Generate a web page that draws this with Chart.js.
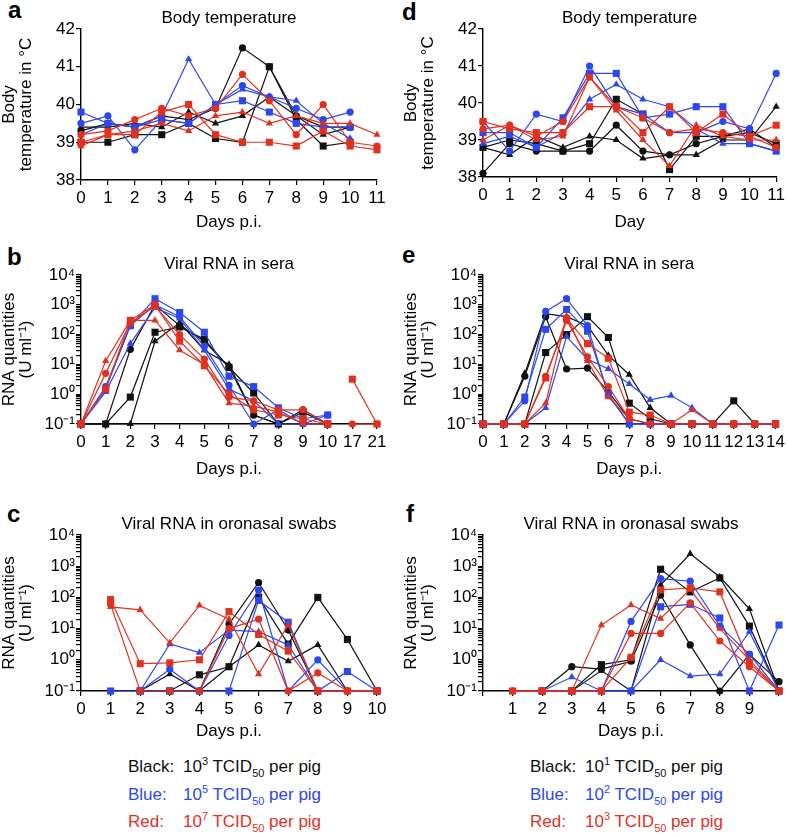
<!DOCTYPE html>
<html>
<head>
<meta charset="utf-8">
<script src="https://cdn.jsdelivr.net/npm/chart.js@4.4.1/dist/chart.umd.min.js"></script>
<style>
body { margin: 0; background: #fff; width: 788px; height: 837px; position: relative; overflow: hidden; font-family: 'Liberation Sans', Arial, sans-serif; }
canvas { position: absolute; }
.tag { position: absolute; font-weight: bold; font-size: 24px; line-height: 24px; }
.leg { position: absolute; font-size: 17px; line-height: 17px; white-space: nowrap; }
.leg .v { position: absolute; left: 55px; top: 0; }
sup { font-size: 11px; vertical-align: 7px; line-height: 0; }
sub { font-size: 11px; vertical-align: -5px; line-height: 0; }
</style>
</head>
<body>
<div class="tag" style="left:8px;top:-2px">a</div>
<div class="tag" style="left:7px;top:245px">b</div>
<div class="tag" style="left:7px;top:502px">c</div>
<div class="tag" style="left:402px;top:0px">d</div>
<div class="tag" style="left:402px;top:243px">e</div>
<div class="tag" style="left:406px;top:502px">f</div>

<canvas id="pa" width="394" height="233" style="left:0;top:0"></canvas>
<canvas id="pb" width="394" height="234" style="left:0;top:246px"></canvas>
<canvas id="pc" width="394" height="236" style="left:0;top:506px"></canvas>
<canvas id="pd" width="394" height="233" style="left:394px;top:0"></canvas>
<canvas id="pe" width="394" height="234" style="left:394px;top:246px"></canvas>
<canvas id="pf" width="394" height="236" style="left:394px;top:506px"></canvas>

<div class="leg" style="left:128px;top:758px;color:#111">Black:<span class="v">10<sup>3</sup> TCID<sub>50</sub> per pig</span></div>
<div class="leg" style="left:128px;top:786px;color:#2d47ee">Blue:<span class="v">10<sup>5</sup> TCID<sub>50</sub> per pig</span></div>
<div class="leg" style="left:128px;top:813px;color:#e2301f">Red:<span class="v">10<sup>7</sup> TCID<sub>50</sub> per pig</span></div>
<div class="leg" style="left:530px;top:758px;color:#111">Black:<span class="v">10<sup>1</sup> TCID<sub>50</sub> per pig</span></div>
<div class="leg" style="left:530px;top:786px;color:#2d47ee">Blue:<span class="v">10<sup>2</sup> TCID<sub>50</sub> per pig</span></div>
<div class="leg" style="left:530px;top:813px;color:#e2301f">Red:<span class="v">10<sup>3</sup> TCID<sub>50</sub> per pig</span></div>

<script>
// x categories
const tempDays = ['0', '1', '2', '3', '4', '5', '6', '7', '8', '9', '10', '11'];
const seraDaysB = ['0', '1', '2', '3', '4', '5', '6', '7', '8', '9', '10', '17', '21'];
const seraDaysE = ['0', '1', '2', '3', '4', '5', '6', '7', '8', '9', '10', '11', '12', '13', '14'];
const swabDaysC = ['0', '1', '2', '3', '4', '5', '6', '7', '8', '9', '10'];
const swabDaysF = ['', '1', '2', '3', '4', '5', '6', '7', '8', '9', ''];

// y ticks
const tempTicks = [38, 39, 40, 41, 42];
const logTicks = [0.1, 1, 10, 100, 1000, 10000];
const logTickLabels = ['10⁻¹', '10⁰', '10¹', '10²', '10³', '10⁴'];

// each group: [circle, square, triangle]
// a - body temperature
const tempA_black = [
    [39.3, 39.5, 39.4, 39.7, 39.6, 39.9, 41.5, 41.0, 39.7, 39.4, 39.4, null],
    [39.0, 39.0, 39.2, 39.2, 39.5, 39.1, 39.0, 41.0, 39.6, 38.9, 39.0, null],
    [39.4, 39.4, 39.5, 39.4, 39.8, 39.5, 39.7, 40.2, 39.7, 39.2, 39.4, null]
];
const tempA_blue = [
    [39.5, 39.7, 38.8, 39.6, 39.5, 40.0, 40.5, 40.2, 39.9, 39.6, 39.8, null],
    [39.8, 39.5, 39.4, 39.6, 39.5, 40.0, 40.1, 39.8, 39.5, 39.4, 39.4, null],
    [39.2, 39.5, 39.4, 39.7, 41.2, 40.0, 40.4, 40.2, 40.1, 39.5, 39.1, null]
];
const tempA_red = [
    [39.2, 39.3, 39.6, 39.9, 39.7, 39.9, 40.8, 40.1, 39.2, 40.0, 39.0, 38.9],
    [39.0, 39.2, 39.2, 39.8, 40.0, 39.2, 39.0, 39.0, 38.9, 39.3, 38.9, 38.8],
    [38.9, 39.2, 39.3, 39.5, 39.3, 39.7, 39.8, 39.5, 39.7, 39.5, 39.5, 39.2]
];

// d - body temperature
const tempD_black = [
    [38.1, 38.9, 38.7, 38.7, 38.7, 39.4, 38.7, 38.6, 38.9, 39.1, 39.3, 38.8],
    [38.8, 39.0, 38.9, 38.7, 38.9, 40.1, 39.7, 38.2, 39.1, 39.1, 39.2, 38.9],
    [38.8, 38.6, 39.1, 38.8, 39.1, 39.0, 38.5, 38.6, 38.6, 39.0, 39.0, 39.9]
];
const tempD_blue = [
    [39.5, 38.7, 39.7, 39.5, 41.0, 39.9, 39.7, 39.2, 39.2, 39.5, 39.3, 40.8],
    [39.2, 39.2, 38.8, 39.6, 40.8, 40.8, 39.6, 39.7, 39.9, 39.9, 38.9, 38.7],
    [38.9, 39.1, 38.8, 39.2, 40.1, 40.5, 40.1, 39.9, 39.3, 38.9, 38.9, 38.7]
];
const tempD_red = [
    [39.3, 39.4, 39.1, 39.5, 40.7, 39.9, 39.6, 39.2, 39.3, 39.2, 39.1, 38.8],
    [39.5, 39.3, 39.2, 39.2, 39.9, 39.9, 39.2, 39.9, 39.2, 39.7, 39.1, 39.4],
    [39.0, 39.4, 39.0, 39.1, 40.7, 39.8, 39.0, 38.3, 39.4, 39.1, 39.0, 39.0]
];

// b - viral RNA in sera
const seraB_black = [
    [0.1, 0.1, 32, 1000, 200, 60, 8, 0.2, 0.1, 0.3, 0.1, null, null],
    [0.1, 0.1, 0.8, 120, 180, 70, 8, 1.1, 0.1, 0.25, 0.1, null, null],
    [0.1, 0.1, 0.1, 60, 250, 30, 10, 0.2, 0.1, 0.1, 0.1, null, null]
];
const seraB_blue = [
    [0.1, 1.8, 200, 1000, 400, 40, 2, 0.1, 0.3, 0.1, 0.2, null, null],
    [0.1, 1.5, 200, 1600, 550, 120, 4, 1.8, 0.35, 0.15, 0.2, null, null],
    [0.1, 1.2, 50, 800, 350, 30, 1.5, 0.6, 0.1, 0.1, 0.1, null, null]
];
const seraB_red = [
    [0.1, 5, 250, 900, 100, 15, 0.8, 0.6, 0.3, 0.3, 0.1, null, null],
    [0.1, 1.5, 300, 1000, 60, 9, 1.0, 0.3, 0.2, 0.15, 0.1, null, null],
    [0.1, 13, 300, 300, 30, 10, 0.5, 0.4, 0.25, 0.1, 0.1, null, null]
];
// red animals sampled again on days 17 and 21
const seraB_redLate = [
    [null, null, null, null, null, null, null, null, null, null, null, 0.1, 0.1],
    [null, null, null, null, null, null, null, null, null, null, null, 3.2, 0.1]
];

// e - viral RNA in sera
const seraE_black = [
    [0.1, 0.1, 4, 400, 7, 7.5, 1.2, 0.15, 0.1, 0.1, 0.1, 0.1, 0.1, 0.1, 0.1],
    [0.1, 0.1, 0.1, 25, 100, 400, 80, 0.5, 0.15, 0.1, 0.1, 0.1, 0.6, 0.1, 0.1],
    [0.1, 0.1, 5, 500, 400, 200, 20, 4.5, 0.35, 0.1, 0.1, 0.1, 0.1, 0.1, 0.1]
];
const seraE_blue = [
    [0.1, 0.1, 0.6, 600, 1600, 200, 0.9, 0.1, 0.1, 0.1, 0.1, 0.1, 0.1, 0.1, 0.1],
    [0.1, 0.1, 0.8, 150, 700, 130, 1.0, 0.1, 0.1, 0.1, 0.1, 0.1, 0.1, 0.1, 0.1],
    [0.1, 0.1, 0.1, 0.35, 85, 15, 7, 2.2, 0.65, 0.9, 0.35, 0.1, 0.1, 0.1, 0.1]
];
const seraE_red = [
    [0.1, 0.1, 0.1, 4, 300, 18, 1.8, 0.15, 0.1, 0.1, 0.1, 0.1, 0.1, 0.1, 0.1],
    [0.1, 0.1, 0.1, 3.5, 350, 50, 16, 0.25, 0.2, 0.1, 0.1, 0.1, 0.1, 0.1, 0.1],
    [0.1, 0.1, 0.1, 0.5, 400, 13, 0.8, 0.15, 0.1, 0.1, 0.3, 0.1, 0.1, 0.1, 0.1]
];

// c - viral RNA in oronasal swabs
const swabC_black = [
    [null, null, 0.1, 0.1, 0.1, 14, 300, 9, 0.1, 0.1, 0.1],
    [null, null, 0.1, 0.1, 0.33, 0.6, 100, 3.2, 100, 4.5, 0.1],
    [null, null, 0.1, 0.35, 0.1, 0.6, 3, 0.9, 3, 0.1, 0.1]
];
const swabC_blue = [
    [null, null, 0.1, 0.5, 0.1, 6, 170, 0.1, 1.0, 0.1, 0.1],
    [null, 0.1, 0.1, 0.1, 0.1, 0.1, 80, 16, 0.1, 0.42, 0.1],
    [null, null, 0.1, 3.2, 1.7, 9, 8, 3, 0.1, 0.1, 0.1]
];
const swabC_red = [
    [null, 60, 0.1, 0.1, 0.1, 10, 20, 0.1, 0.38, 0.1, 0.1],
    [null, 85, 0.75, 0.8, 1.0, 35, 6.5, 1.9, 0.1, 0.1, 0.1],
    [null, 50, 40, 3.5, 55, 20, 0.35, 13, 0.1, 0.1, 0.1]
];

// f - viral RNA in oronasal swabs
const swabF_black = [
    [null, null, 0.1, 0.6, 0.5, 0.9, 120, 3, 0.1, 1.5, 0.2],
    [null, null, 0.1, 0.1, 0.7, 1.0, 800, 150, 420, 12, 0.1],
    [null, null, 0.1, 0.1, 0.45, 0.1, 250, 2500, 450, 43, 0.1]
];
const swabF_blue = [
    [null, null, 0.1, 0.1, 0.1, 17, 400, 330, 12, 1.5, 0.1],
    [null, null, 0.1, 0.1, 0.1, 0.1, 50, 60, 22, 0.1, 13],
    [null, null, 0.1, 0.28, 0.1, 0.1, 1.0, 0.3, 0.35, 8, 0.1]
];
const swabF_red = [
    [null, 0.1, 0.1, 0.1, 0.1, 7, 7, 67, 4, 0.6, 0.1],
    [null, 0.1, 0.1, 0.1, 0.1, 1.2, 175, 200, 150, 0.8, 0.1],
    [null, 0.1, 0.1, 0.1, 13, 57, 21, 180, 10, 1.0, 0.1]
];

const colBlack = '#111111';
const colBlue = '#2d47ee';
const colRed = '#e2301f';
const shapes = ['circle', 'rect', 'triangle'];
const radii = [3.6, 5, 4.2];

Chart.defaults.font.family = "'Liberation Sans', Arial, sans-serif";
Chart.defaults.font.size = 17;
Chart.defaults.color = '#000';

function groupSets(arrays, color, shapeIdx) {
    return arrays.map((vals, i) => {
        const s = shapeIdx ? shapeIdx[i] : i;
        return {
            data: vals,
            borderColor: color,
            backgroundColor: color,
            borderWidth: 1.2,
            pointStyle: shapes[s],
            pointRadius: radii[s],
            pointBorderWidth: 0,
            tension: 0,
            spanGaps: false,
            clip: false
        };
    });
}

// decades plus minor marks for the log axis
function logMarks() {
    const out = [];
    logTicks.forEach((d, i) => {
        out.push(d);
        if (i < logTicks.length - 1) {
            for (let k = 2; k <= 9; k++) out.push(+(d * k).toPrecision(3));
        }
    });
    return out;
}

function logLabel(v) {
    const idx = logTicks.findIndex(t => Math.abs(t - v) < t * 1e-6);
    return idx >= 0 ? logTickLabels[idx] : '';
}

function drawPanel(id, cfg) {
    const axisGrid = { drawOnChartArea: false, drawTicks: true, tickLength: 5, color: '#000', lineWidth: 1.2 };
    const axisBorder = { display: true, color: '#000', width: 1.4 };

    let yScale;
    if (cfg.log) {
        yScale = {
            type: 'logarithmic', min: 0.1, max: 10000,
            afterBuildTicks: s => { s.ticks = logMarks().map(v => ({ value: v })); },
            ticks: { autoSkip: false, padding: 1, callback: v => logLabel(v) }
        };
    } else {
        yScale = {
            type: 'linear', min: tempTicks[0], max: tempTicks[tempTicks.length - 1],
            afterBuildTicks: s => { s.ticks = tempTicks.map(v => ({ value: v })); },
            ticks: { autoSkip: false, padding: 1 }
        };
    }
    yScale.afterFit = s => { s.width = cfg.yWidth; };
    yScale.grid = axisGrid;
    yScale.border = axisBorder;
    yScale.title = {
        display: true, text: cfg.yTitle, color: '#000',
        font: { size: 17, lineHeight: 1.05 },
        padding: { top: cfg.yTitlePad, bottom: 0 }
    };

    new Chart(document.getElementById(id), {
        type: 'line',
        data: { labels: cfg.labels, datasets: cfg.sets },
        options: {
            responsive: false,
            animation: false,
            layout: { padding: { left: 0, right: cfg.right, top: 0, bottom: 0 } },
            plugins: {
                legend: { display: false },
                tooltip: { enabled: false },
                title: {
                    display: true, text: cfg.title, fullSize: false, color: '#000',
                    font: { size: 17, weight: 'normal' },
                    padding: { top: 8, bottom: 0.6 }
                }
            },
            scales: {
                x: {
                    type: 'category',
                    afterFit: s => { s.height = cfg.xHeight; },
                    grid: axisGrid,
                    border: axisBorder,
                    ticks: { autoSkip: false, maxRotation: 0, minRotation: 0, padding: 3 },
                    title: { display: true, text: cfg.xTitle, color: '#000', font: { size: 17 }, padding: 0 }
                },
                y: yScale
            }
        }
    });
}

const tempTitle = ['Body', 'temperature in °C'];
const rnaTitle = ['RNA quantities', '(U ml⁻¹)'];

function allSets(black, blue, red) {
    return [...groupSets(red, colRed), ...groupSets(blue, colBlue), ...groupSets(black, colBlack)];
}

drawPanel('pa', {
    labels: tempDays, sets: allSets(tempA_black, tempA_blue, tempA_red),
    title: 'Body temperature', xTitle: 'Days p.i.', yTitle: tempTitle,
    yWidth: 81, yTitlePad: 0, right: 17, xHeight: 53, log: false
});
drawPanel('pb', {
    labels: seraDaysB,
    sets: [...groupSets(seraB_redLate, colRed, [0, 1]), ...allSets(seraB_black, seraB_blue, seraB_red)],
    title: 'Viral RNA in sera', xTitle: 'Days p.i.', yTitle: rnaTitle,
    yWidth: 81, yTitlePad: 0, right: 17, xHeight: 56, log: true
});
drawPanel('pc', {
    labels: swabDaysC, sets: allSets(swabC_black, swabC_blue, swabC_red),
    title: 'Viral RNA in oronasal swabs', xTitle: 'Days p.i.', yTitle: rnaTitle,
    yWidth: 81, yTitlePad: 0, right: 17, xHeight: 51, log: true
});
drawPanel('pd', {
    labels: tempDays, sets: allSets(tempD_black, tempD_blue, tempD_red),
    title: 'Body temperature', xTitle: 'Day', yTitle: tempTitle,
    yWidth: 89, yTitlePad: 8, right: 9, xHeight: 56, log: false
});
drawPanel('pe', {
    labels: seraDaysE, sets: allSets(seraE_black, seraE_blue, seraE_red),
    title: 'Viral RNA in sera', xTitle: 'Days p.i.', yTitle: rnaTitle,
    yWidth: 89, yTitlePad: 8, right: 9, xHeight: 56, log: true
});
drawPanel('pf', {
    labels: swabDaysF, sets: allSets(swabF_black, swabF_blue, swabF_red),
    title: 'Viral RNA in oronasal swabs', xTitle: 'Days p.i.', yTitle: rnaTitle,
    yWidth: 89, yTitlePad: 8, right: 9, xHeight: 51, log: true
});
</script>
</body>
</html>
